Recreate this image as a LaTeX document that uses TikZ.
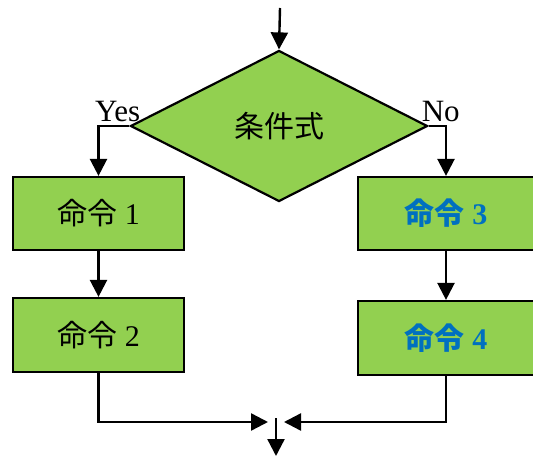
\documentclass[tikz,border=0pt]{standalone}
\usepackage{fontspec}
\setmainfont{Liberation Serif}
\newfontfamily\cjk{Noto Sans CJK JP}
\usepackage{tikz}
\usetikzlibrary{shapes.geometric,arrows.meta}
\definecolor{boxgreen}{HTML}{92D050}
\definecolor{cmdblue}{HTML}{0070C0}

\begin{document}
\begin{tikzpicture}[x=1pt,y=-1pt,
  box/.style={draw,fill=boxgreen,line width=2.2pt,minimum height=73pt,inner sep=0pt,font=\fontsize{30}{30}\selectfont},
  cmd/.style={box,text=cmdblue,font=\fontsize{30}{30}\selectfont\bfseries},
  flow/.style={-{Triangle[width=17pt,length=17pt]},line width=2.4pt}]
 \useasboundingbox (0,0) rectangle (533,457);
 \coordinate (start) at (280,8);
 \node (cond) at (279,126) [diamond,draw,fill=boxgreen,line width=2.2pt,minimum width=297pt,minimum height=151pt,inner sep=0pt,font=\fontsize{30}{30}\selectfont] {\cjk 条件式};
 \node (yes) [anchor=south east,inner sep=0pt,font=\fontsize{31}{31}\selectfont] at ([xshift=11pt,yshift=4pt]cond.west) {Yes};
 \node (no) [anchor=south west,inner sep=0pt,font=\fontsize{31}{31}\selectfont] at ([xshift=-7pt,yshift=4pt]cond.east) {No};

 \node (c1) at (98.5,213.5) [box,minimum width=171pt] {{\cjk 命令} 1};
 \node (c2) at (98.5,335) [box,minimum width=171pt,minimum height=74pt] {{\cjk 命令} 2};
 \node (c3) at (446,213.5) [cmd,minimum width=176pt] {{\cjk 命令} 3};
 \node (c4) at (446,338) [cmd,minimum width=176pt,minimum height=74pt] {{\cjk 命令} 4};

 \coordinate (joinL) at (268,422);
 \coordinate (joinR) at (284,422);
 \coordinate (jtop) at (276,418);
 \coordinate (end) at (276,456);

 \draw[flow] (start) -- (cond.north);
 \draw[flow] (cond.west) -| (c1.north);
 \draw[flow] (cond.east) -| (c3.north);
 \draw[flow] (c1) -- (c2);
 \draw[flow] (c3) -- (c4);
 \draw[flow] (c2.south) |- (joinL);
 \draw[flow] (c4.south) |- (joinR);
 \draw[flow] (jtop) -- (end);
\end{tikzpicture}
\end{document}
